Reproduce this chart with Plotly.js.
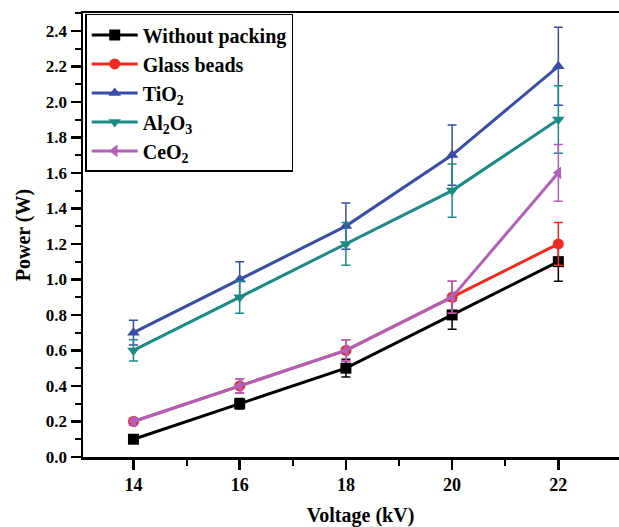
<!DOCTYPE html>
<html>
<head>
<meta charset="utf-8">
<script src="https://cdn.plot.ly/plotly-3.0.1.min.js"></script>
<style>
html,body{margin:0;padding:0;overflow:hidden;background:#fff;}
#chart{width:640px;height:527px;}
</style>
</head>
<body>
<div id="chart"></div>
<script>
const voltage = [14, 16, 18, 20, 22];

const names = ["Without packing", "Glass beads", "TiO<sub>2</sub>", "Al<sub>2</sub>O<sub>3</sub>", "CeO<sub>2</sub>"];

const withoutPacking = [0.1, 0.3, 0.5, 0.8, 1.1];
const withoutPackingErr = [0.01, 0.03, 0.05, 0.08, 0.11];

const glassBeads = [0.2, 0.4, 0.6, 0.9, 1.2];
const glassBeadsErr = [0.02, 0.04, 0.06, 0.09, 0.12];

const tio2 = [0.7, 1.0, 1.3, 1.7, 2.2];
const tio2Err = [0.07, 0.1, 0.13, 0.17, 0.22];

const al2o3 = [0.6, 0.9, 1.2, 1.5, 1.9];
const al2o3Err = [0.06, 0.09, 0.12, 0.15, 0.19];

const ceo2 = [0.2, 0.4, 0.6, 0.9, 1.6];
const ceo2Err = [0.02, 0.04, 0.06, 0.09, 0.16];

const colors = ["#000000", "#f2291e", "#3b4ba8", "#1d8a86", "#b25fba"];
const symbols = ["square", "circle", "triangle-up", "triangle-down", "triangle-left"];
const values = [withoutPacking, glassBeads, tio2, al2o3, ceo2];
const errs = [withoutPackingErr, glassBeadsErr, tio2Err, al2o3Err, ceo2Err];

const traces = values.map((v, i) => ({
  x: voltage,
  y: v,
  name: names[i],
  type: "scatter",
  mode: "lines+markers",
  line: {color: colors[i], width: 3},
  marker: {color: colors[i], symbol: symbols[i], size: 11},
  error_y: {type: "data", array: errs[i], visible: true, color: colors[i], thickness: 1.5, width: 4.5}
}));

const serif = "Liberation Serif, Times New Roman, serif";

const layout = {
  width: 640,
  height: 527,
  margin: {l: 83, r: 2, t: 13, b: 70},
  paper_bgcolor: "#fff",
  plot_bgcolor: "#fff",
  font: {family: serif, color: "#000"},
  showlegend: true,
  legend: {
    x: 0.004, y: 0.998, xanchor: "left", yanchor: "top",
    bgcolor: "#fff", bordercolor: "#000", borderwidth: 1.5,
    font: {family: serif, size: 20, color: "#000", weight: "bold"},
    tracegroupgap: 0,
    itemwidth: 46
  },
  xaxis: {
    range: [13.05, 23.5],
    tickvals: [14, 16, 18, 20, 22],
    ticktext: ["14", "16", "18", "20", "22"],
    ticks: "outside", ticklen: 10, tickwidth: 2.5, tickcolor: "#000",
    minor: {tickvals: [15, 17, 19, 21], ticks: "outside", ticklen: 6, tickwidth: 2, tickcolor: "#000"},
    showline: true, linecolor: "#000", linewidth: 2.5, mirror: true,
    showgrid: false, zeroline: false,
    tickfont: {family: serif, size: 18, color: "#000", weight: "bold"},
    title: {text: "Voltage (kV)", font: {family: serif, size: 20, color: "#000", weight: "bold"}, standoff: 16}
  },
  yaxis: {
    range: [0, 2.5],
    tickvals: [0, 0.2, 0.4, 0.6, 0.8, 1.0, 1.2, 1.4, 1.6, 1.8, 2.0, 2.2, 2.4],
    ticktext: ["0.0", "0.2", "0.4", "0.6", "0.8", "1.0", "1.2", "1.4", "1.6", "1.8", "2.0", "2.2", "2.4"],
    ticks: "outside", ticklen: 10, tickwidth: 2.5, tickcolor: "#000",
    minor: {dtick: 0.1, ticks: "outside", ticklen: 6, tickwidth: 2, tickcolor: "#000"},
    showline: true, linecolor: "#000", linewidth: 2.5, mirror: true,
    showgrid: false, zeroline: false,
    tickfont: {family: serif, size: 17, color: "#000", weight: "bold"},
    title: {text: "Power (W)", font: {family: serif, size: 20, color: "#000", weight: "bold"}, standoff: 10}
  }
};

Plotly.newPlot("chart", traces, layout, {displayModeBar: false, staticPlot: true});
</script>
</body>
</html>
